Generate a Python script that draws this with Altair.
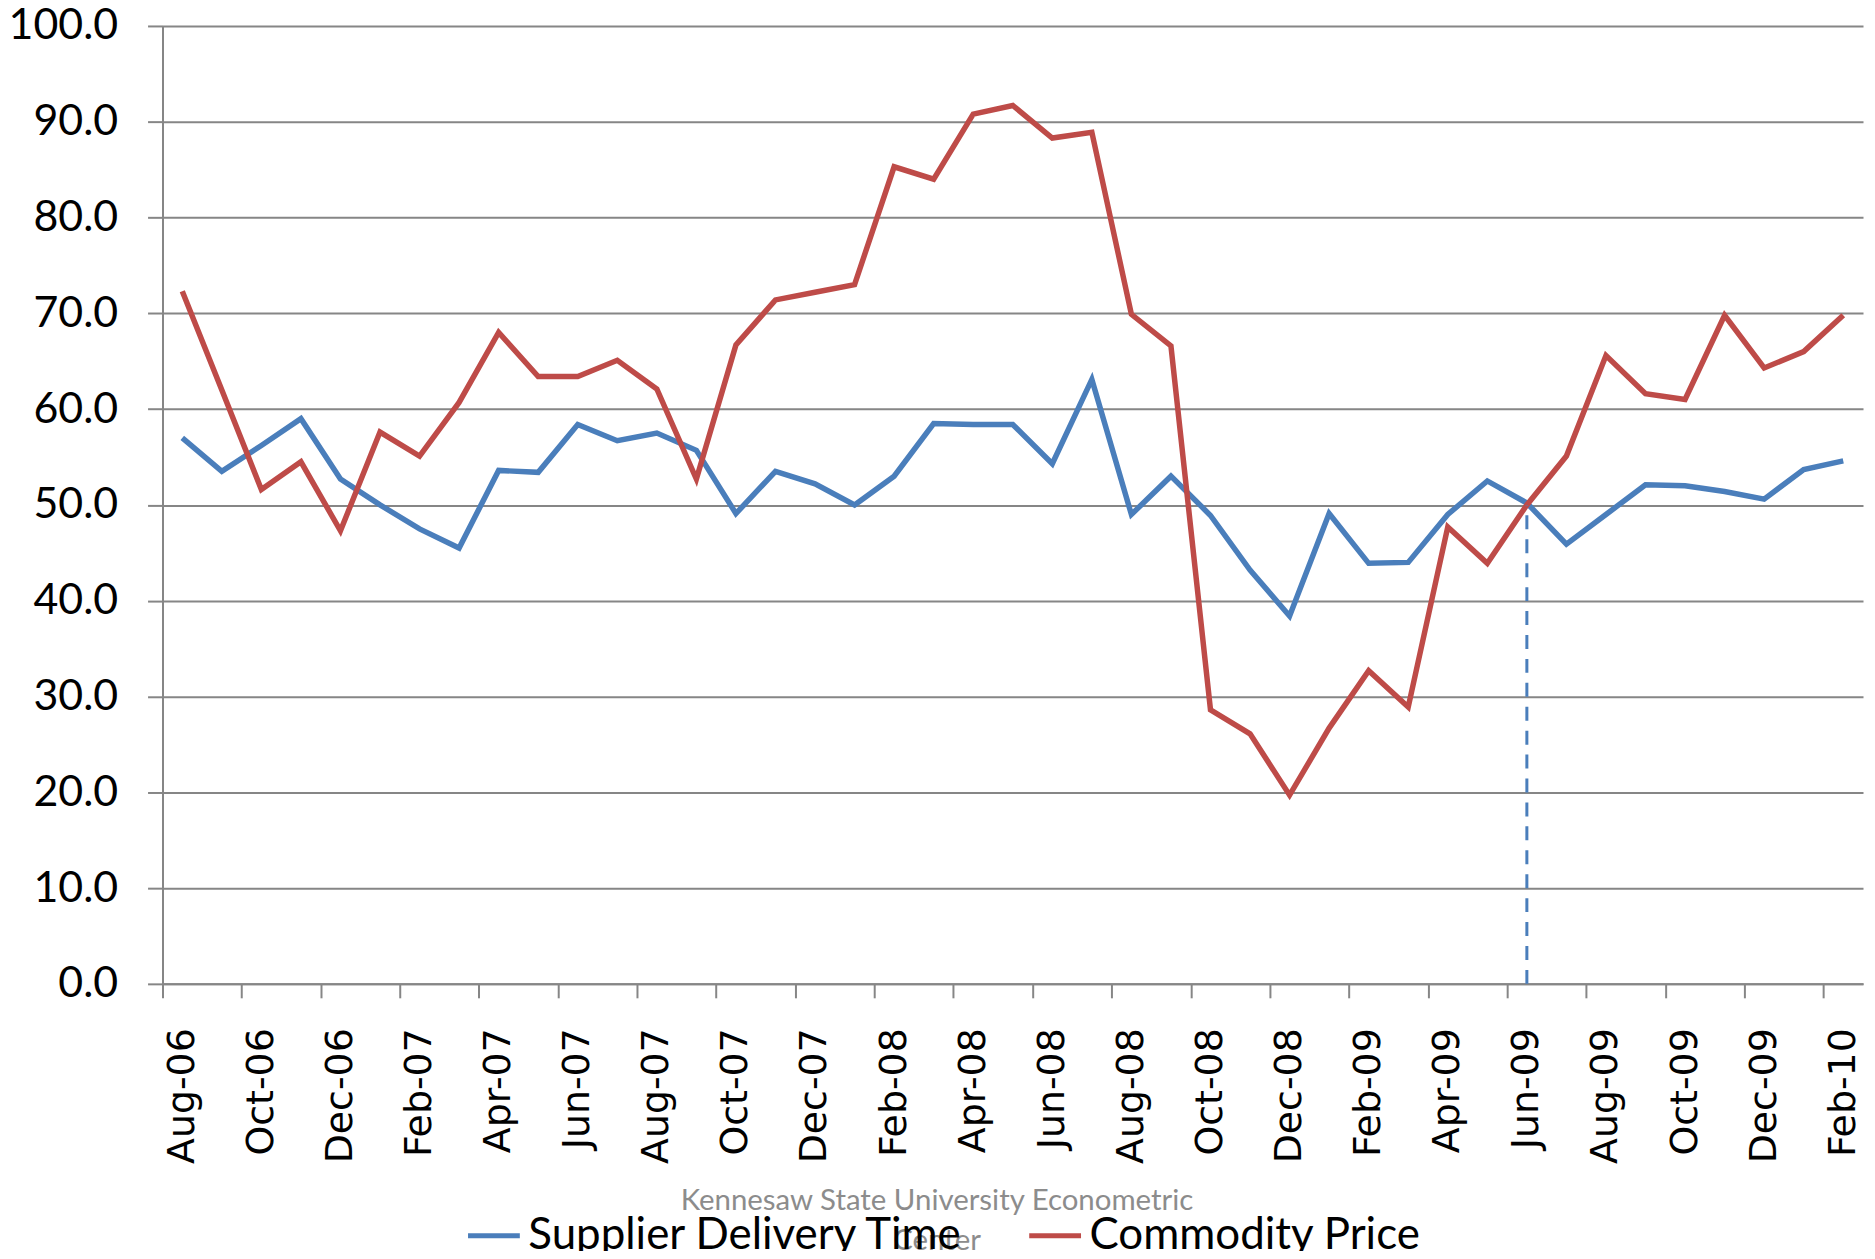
import altair as alt
import pandas as pd

months = ["Aug-06", "Sep-06", "Oct-06", "Nov-06", "Dec-06", "Jan-07", "Feb-07", "Mar-07",
          "Apr-07", "May-07", "Jun-07", "Jul-07", "Aug-07", "Sep-07", "Oct-07", "Nov-07",
          "Dec-07", "Jan-08", "Feb-08", "Mar-08", "Apr-08", "May-08", "Jun-08", "Jul-08",
          "Aug-08", "Sep-08", "Oct-08", "Nov-08", "Dec-08", "Jan-09", "Feb-09", "Mar-09",
          "Apr-09", "May-09", "Jun-09", "Jul-09", "Aug-09", "Sep-09", "Oct-09", "Nov-09",
          "Dec-09", "Jan-10", "Feb-10"]

supplier_delivery = [57.0, 53.5, 56.2, 59.0, 52.7, 50.0, 47.5, 45.5, 53.6, 53.4, 58.4, 56.7,
                     57.5, 55.7, 49.1, 53.5, 52.2, 50.0, 53.0, 58.5, 58.4, 58.4, 54.3, 63.1,
                     49.0, 53.0, 48.9, 43.2, 38.4, 49.1, 43.9, 44.0, 49.0, 52.5, 50.2, 45.9,
                     49.0, 52.1, 52.0, 51.4, 50.6, 53.7, 54.6]

commodity_price = [72.3, 62.0, 51.6, 54.5, 47.3, 57.6, 55.1, 60.7, 68.0, 63.4, 63.4, 65.1,
                   62.1, 52.7, 66.7, 71.4, 72.2, 73.0, 85.3, 84.0, 90.8, 91.7, 88.3, 88.9,
                   69.9, 66.6, 28.6, 26.1, 19.7, 26.7, 32.7, 28.9, 47.7, 43.9, 50.0, 55.1,
                   65.6, 61.6, 61.0, 69.8, 64.3, 66.0, 69.8]

series_names = ["Supplier Delivery Time", "Commodity Price"]
series_colors = ["#4A7EBB", "#BE4B48"]
x_tick_labels = months[::2]
y_ticks = [0, 10, 20, 30, 40, 50, 60, 70, 80, 90, 100]

marker_month = ["Jun-09"]
marker_low = [0.0]
marker_high = [50.0]

watermark = ["Kennesaw State University Econometric", "Center"]

rows = []
for name, vals in zip(series_names, [supplier_delivery, commodity_price]):
    for i, (m, v) in enumerate(zip(months, vals)):
        rows.append({"month": m, "value": v, "series": name, "order": i})
df = pd.DataFrame(rows)
marker_df = pd.DataFrame({"month": marker_month, "low": marker_low, "high": marker_high})
note_df = pd.DataFrame({"note": [watermark]})

W, H = 1706, 961
n = len(months)
step = W / n

x_enc = alt.X(
    "month:O",
    sort=months,
    scale=alt.Scale(type="point", padding=0.5),
    axis=alt.Axis(
        title=None,
        values=x_tick_labels,
        labelAngle=270,
        labelAlign="right",
        labelBaseline="middle",
        labelFont="DejaVu Sans",
        labelFontSize=38,
        labelColor="black",
        labelPadding=30,
        tickOffset=-step / 2,
        labelOffset=step / 2,
        tickSize=14,
        tickColor="#868686",
        tickWidth=2,
        domain=True,
        domainColor="#868686",
        domainWidth=2,
        grid=False,
        labelOverlap=False,
    ),
)

lines = alt.Chart(df).mark_line(strokeWidth=5.5).encode(
    x=x_enc,
    y=alt.Y(
        "value:Q",
        scale=alt.Scale(domain=[0, 100], nice=False),
        axis=alt.Axis(
            title=None,
            values=y_ticks,
            format=".1f",
            labelFont="Lato",
            labelFontSize=43,
            labelColor="black",
            labelPadding=30,
            tickSize=15,
            tickColor="#868686",
            tickWidth=2,
            domainColor="#868686",
            domainWidth=2,
            grid=True,
            gridColor="#868686",
            gridWidth=2,
        ),
    ),
    color=alt.Color(
        "series:N",
        sort=series_names,
        scale=alt.Scale(domain=series_names, range=series_colors),
        legend=alt.Legend(
            title=None,
            orient="none",
            direction="horizontal",
            legendX=304,
            legendY=1185,
            symbolType="stroke",
            symbolSize=2700,
            symbolStrokeWidth=5,
            labelFont="Lato",
            labelFontSize=44,
            labelColor="black",
            labelOffset=6,
            columnPadding=54,
            labelLimit=800,
        ),
    ),
    order="order:Q",
)

marker = alt.Chart(marker_df).mark_rule(
    color="#4A7EBB", strokeWidth=3, strokeDash=[14, 10]
).encode(
    x=alt.X("month:O", sort=months),
    y="low:Q",
    y2="high:Q",
)

note = alt.Chart(note_df).mark_text(
    font="Lato",
    fontSize=29.5,
    color="#8C8C8C",
    align="center",
    baseline="alphabetic",
    lineHeight=40,
).encode(
    text="note",
    x=alt.value(777),
    y=alt.value(1188),
)

chart = alt.layer(lines, marker, note).properties(
    width=W,
    height=H,
    autosize=alt.AutoSizeParams(type="none"),
    padding={"left": 155, "top": 16, "right": 4, "bottom": 266},
).configure_view(stroke=None)

chart.save("out.html", embed_options={"renderer": "svg", "actions": False})
